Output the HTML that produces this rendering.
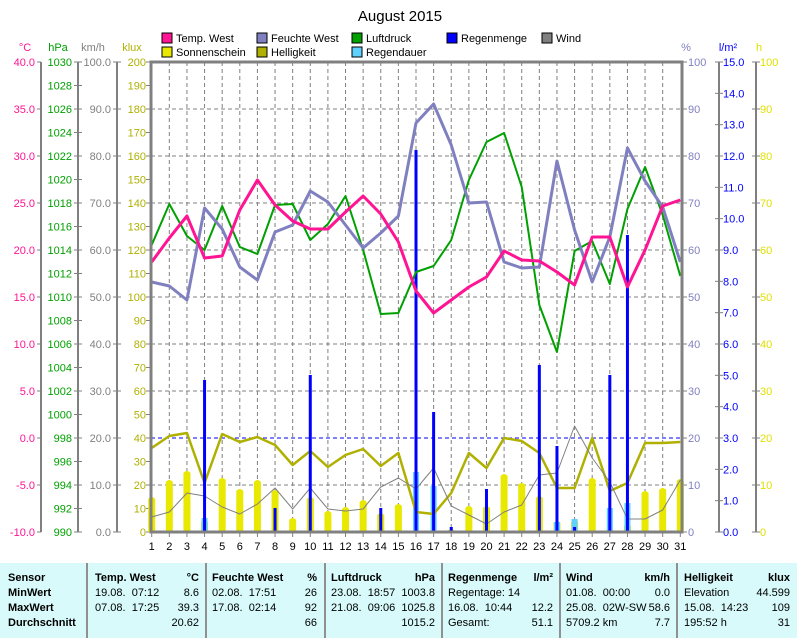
<!DOCTYPE html>
<html><head><meta charset="utf-8"><style>
body{margin:0;background:#fff;width:797px;height:638px;overflow:hidden;font-family:"Liberation Sans",sans-serif}
svg text{font-family:"Liberation Sans",sans-serif;font-size:11px}
#foot{position:absolute;left:0;top:563px;width:797px;height:75px;background:#d8fafa;font-size:11px;}
.c{position:absolute;top:8px;line-height:15px}
.sep{position:absolute;top:0;width:2px;height:75px;background:#909090}
b{font-weight:bold}
.r{text-align:right;position:absolute}
</style></head><body>
<svg id="s" width="797" height="563" style="position:absolute;left:0;top:0">
<text x="400" y="21" text-anchor="middle" style="font-size:15px">August 2015</text>
<g id="g"></g>
<g font-size="11">
<rect x="162" y="33" width="10" height="10" fill="#ff1493" stroke="#000"/><text x="176" y="42">Temp. West</text>
<rect x="257" y="33" width="10" height="10" fill="#8080c0" stroke="#000"/><text x="271" y="42">Feuchte West</text>
<rect x="352" y="33" width="10" height="10" fill="#00a000" stroke="#000"/><text x="366" y="42">Luftdruck</text>
<rect x="447" y="33" width="10" height="10" fill="#0000ff" stroke="#000"/><text x="461" y="42">Regenmenge</text>
<rect x="542" y="33" width="10" height="10" fill="#808080" stroke="#000"/><text x="556" y="42">Wind</text>
<rect x="162" y="47" width="10" height="10" fill="#e8e800" stroke="#000"/><text x="176" y="56">Sonnenschein</text>
<rect x="257" y="47" width="10" height="10" fill="#b0b000" stroke="#000"/><text x="271" y="56">Helligkeit</text>
<rect x="352" y="47" width="10" height="10" fill="#60d0ff" stroke="#000"/><text x="366" y="56">Regendauer</text>
<text x="25" y="51" text-anchor="middle" fill="#ff1493">°C</text>
<text x="58" y="51" text-anchor="middle" fill="#00a000">hPa</text>
<text x="93" y="51" text-anchor="middle" fill="#808080">km/h</text>
<text x="132" y="51" text-anchor="middle" fill="#b0b000">klux</text>
<text x="686" y="51" text-anchor="middle" fill="#8080c0">%</text>
<text x="728" y="51" text-anchor="middle" fill="#0000ff">l/m²</text>
<text x="759" y="51" text-anchor="middle" fill="#e0e000">h</text>
</g>
<g text-anchor="end" fill="#ff1493">
<text x="35" y="66">40.0</text><text x="35" y="113">35.0</text><text x="35" y="160">30.0</text><text x="35" y="207">25.0</text><text x="35" y="254">20.0</text><text x="35" y="301">15.0</text><text x="35" y="348">10.0</text><text x="35" y="395">5.0</text><text x="35" y="442">0.0</text><text x="35" y="489">-5.0</text><text x="35" y="536">-10.0</text>
</g>
<g text-anchor="end" fill="#00a000">
<text x="72" y="66">1030</text><text x="72" y="89.5">1028</text><text x="72" y="113">1026</text><text x="72" y="136.5">1024</text><text x="72" y="160">1022</text><text x="72" y="183.5">1020</text><text x="72" y="207">1018</text><text x="72" y="230.5">1016</text><text x="72" y="254">1014</text><text x="72" y="277.5">1012</text><text x="72" y="301">1010</text><text x="72" y="324.5">1008</text><text x="72" y="348">1006</text><text x="72" y="371.5">1004</text><text x="72" y="395">1002</text><text x="72" y="418.5">1000</text><text x="72" y="442">998</text><text x="72" y="465.5">996</text><text x="72" y="489">994</text><text x="72" y="512.5">992</text><text x="72" y="536">990</text>
</g>
<g text-anchor="end" fill="#808080">
<text x="111" y="66">100.0</text><text x="111" y="113">90.0</text><text x="111" y="160">80.0</text><text x="111" y="207">70.0</text><text x="111" y="254">60.0</text><text x="111" y="301">50.0</text><text x="111" y="348">40.0</text><text x="111" y="395">30.0</text><text x="111" y="442">20.0</text><text x="111" y="489">10.0</text><text x="111" y="536">0.0</text>
</g>
<g text-anchor="end" fill="#b0b000">
<text x="146" y="66">200</text><text x="146" y="89.5">190</text><text x="146" y="113">180</text><text x="146" y="136.5">170</text><text x="146" y="160">160</text><text x="146" y="183.5">150</text><text x="146" y="207">140</text><text x="146" y="230.5">130</text><text x="146" y="254">120</text><text x="146" y="277.5">110</text><text x="146" y="301">100</text><text x="146" y="324.5">90</text><text x="146" y="348">80</text><text x="146" y="371.5">70</text><text x="146" y="395">60</text><text x="146" y="418.5">50</text><text x="146" y="442">40</text><text x="146" y="465.5">30</text><text x="146" y="489">20</text><text x="146" y="512.5">10</text><text x="146" y="536">0</text>
</g>
<g fill="#8080c0">
<text x="688" y="66">100</text><text x="688" y="113">90</text><text x="688" y="160">80</text><text x="688" y="207">70</text><text x="688" y="254">60</text><text x="688" y="301">50</text><text x="688" y="348">40</text><text x="688" y="395">30</text><text x="688" y="442">20</text><text x="688" y="489">10</text><text x="688" y="536">0</text>
</g>
<g fill="#0000ff">
<text x="723" y="66">15.0</text><text x="723" y="97.3">14.0</text><text x="723" y="128.7">13.0</text><text x="723" y="160">12.0</text><text x="723" y="191.3">11.0</text><text x="723" y="222.7">10.0</text><text x="723" y="254">9.0</text><text x="723" y="285.3">8.0</text><text x="723" y="316.7">7.0</text><text x="723" y="348">6.0</text><text x="723" y="379.3">5.0</text><text x="723" y="410.7">4.0</text><text x="723" y="442">3.0</text><text x="723" y="473.3">2.0</text><text x="723" y="504.7">1.0</text><text x="723" y="536">0.0</text>
</g>
<g fill="#e0e000">
<text x="760" y="66">100</text><text x="760" y="113">90</text><text x="760" y="160">80</text><text x="760" y="207">70</text><text x="760" y="254">60</text><text x="760" y="301">50</text><text x="760" y="348">40</text><text x="760" y="395">30</text><text x="760" y="442">20</text><text x="760" y="489">10</text><text x="760" y="536">0</text>
</g>
<g text-anchor="middle" font-size="11">
<text x="151.7" y="550">1</text><text x="169.3" y="550">2</text><text x="186.9" y="550">3</text><text x="204.6" y="550">4</text><text x="222.2" y="550">5</text><text x="239.8" y="550">6</text><text x="257.4" y="550">7</text><text x="275.1" y="550">8</text><text x="292.7" y="550">9</text><text x="310.3" y="550">10</text><text x="327.9" y="550">11</text><text x="345.5" y="550">12</text><text x="363.1" y="550">13</text><text x="380.8" y="550">14</text><text x="398.4" y="550">15</text><text x="416" y="550">16</text><text x="433.6" y="550">17</text><text x="451.2" y="550">18</text><text x="468.9" y="550">19</text><text x="486.5" y="550">20</text><text x="504.1" y="550">21</text><text x="521.7" y="550">22</text><text x="539.3" y="550">23</text><text x="557" y="550">24</text><text x="574.6" y="550">25</text><text x="592.2" y="550">26</text><text x="609.8" y="550">27</text><text x="627.4" y="550">28</text><text x="645.1" y="550">29</text><text x="662.7" y="550">30</text><text x="680.3" y="550">31</text>
</g>
</svg>
<div id="foot">
<div class="sep" style="left:86px"></div><div class="sep" style="left:205px"></div><div class="sep" style="left:324px"></div><div class="sep" style="left:441px"></div><div class="sep" style="left:559px"></div><div class="sep" style="left:676px"></div>
<div class="c" style="left:8px"><b>Sensor</b><br><b>MinWert</b><br><b>MaxWert</b><br><b>Durchschnitt</b></div>
<div class="c" style="left:95px;width:104px"><b>Temp. West</b><br>19.08.&nbsp; 07:12<br>07.08.&nbsp; 17:25<br>&nbsp;</div>
<div class="c" style="left:95px;width:104px;text-align:right"><b>°C</b><br>8.6<br>39.3<br>20.62</div>
<div class="c" style="left:212px;width:105px"><b>Feuchte West</b><br>02.08.&nbsp; 17:51<br>17.08.&nbsp; 02:14<br>&nbsp;</div>
<div class="c" style="left:212px;width:105px;text-align:right"><b>%</b><br>26<br>92<br>66</div>
<div class="c" style="left:331px;width:104px"><b>Luftdruck</b><br>23.08.&nbsp; 18:57<br>21.08.&nbsp; 09:06<br>&nbsp;</div>
<div class="c" style="left:331px;width:104px;text-align:right"><b>hPa</b><br>1003.8<br>1025.8<br>1015.2</div>
<div class="c" style="left:448px;width:105px"><b>Regenmenge</b><br>Regentage: 14<br>16.08.&nbsp; 10:44<br>Gesamt:</div>
<div class="c" style="left:448px;width:105px;text-align:right"><b>l/m²</b><br>&nbsp;<br>12.2<br>51.1</div>
<div class="c" style="left:566px;width:104px"><b>Wind</b><br>01.08.&nbsp; 00:00<br>25.08.&nbsp; 02W-SW<br>5709.2 km</div>
<div class="c" style="left:566px;width:104px;text-align:right"><b>km/h</b><br>0.0<br>58.6<br>7.7</div>
<div class="c" style="left:684px;width:106px"><b>Helligkeit</b><br>Elevation<br>15.08.&nbsp; 14:23<br>195:52 h</div>
<div class="c" style="left:684px;width:106px;text-align:right"><b>klux</b><br>44.599<br>109<br>31</div>
</div>
<script>
var NS="http://www.w3.org/2000/svg",g=document.getElementById("g");
function el(n,a){var e=document.createElementNS(NS,n);for(var k in a)e.setAttribute(k,a[k]);g.appendChild(e);return e}
function X(d){return 151.7+(d-1)*17.62}
// grid
for(var y=109;y<532;y+=47)el("line",{x1:151,x2:682,y1:y,y2:y,stroke:"#808080","stroke-dasharray":"4,3"});
for(var d=2;d<=30;d++)el("line",{x1:X(d),x2:X(d),y1:62,y2:532,stroke:"#808080","stroke-dasharray":"4,3"});
el("line",{x1:151,x2:682,y1:438,y2:438,stroke:"#0000ff","stroke-dasharray":"4,3"});
// axes
[[41,0,47],[78,1,23.5],[117,1,47],[719,1,31.333],[756,1,47]].forEach(function(a){
 el("line",{x1:a[0],x2:a[0],y1:62,y2:532,stroke:"#808080","stroke-width":2});
 for(var y=62;y<=532.5;y+=a[2])el("line",{x1:a[0]-4,x2:a[0]+(a[1]?4:0),y1:y,y2:y,stroke:"#808080"});
});
for(var y=62;y<=532.5;y+=23.5)el("line",{x1:146,x2:151,y1:y,y2:y,stroke:"#808080"});
for(var y=62;y<=532.5;y+=47)el("line",{x1:682,x2:687,y1:y,y2:y,stroke:"#808080"});
for(var d=1;d<=31;d++)el("line",{x1:X(d),x2:X(d),y1:532,y2:537,stroke:"#808080"});
// sunshine
var sun=[496,479,470,519,477,488,479,489,517,496,510,506,499,512,503,0,0,528,505,505,473,482,495,520,519,477,527,523,490,487,478];
sun.forEach(function(t,i){if(!t)return;var x=X(i+1);el("path",{d:"M"+(x-3.5)+",532V"+(t+3)+"Q"+x+","+(t-1)+" "+(x+3.5)+","+(t+3)+"V532Z",fill:"#e8e800"})});
var dur={4:518,16:472,17:486,24:522,25:519,27:508,28:503};
for(var k in dur){var x=X(+k);el("rect",{x:x-3,y:dur[k],width:6,height:532-dur[k],fill:"#60d0ff"})}
// brightness
function line(arr,c,w){el("polyline",{points:arr.map(function(v,i){return X(i+1)+","+v}).join(" "),fill:"none",stroke:c,"stroke-width":w,"stroke-linejoin":"round"})}
line([448,436,433,483,434,442,437,445,465,451,467,455,449,466,453,512,514,493,453,468,438,441,453,488,488,438,491,483,443,443,442],"#b0b000",2.5);
line([517,512,493,496,507,514,504,488,509,488,509,511,509,487,478,489,468,506,515,524,512,505,475,473,426,458,482,519,519,510,480],"#808080",1);
var rain={4:380,8:508,10:375,14:508,16:150,17:412,18:527,20:489,23:365,24:446,25:527,27:375,28:235};
for(var k in rain){var x=X(+k);el("rect",{x:x-1.5,y:rain[k],width:3,height:532-rain[k],fill:"#0000ff"})}
line([245,204,236,250,206,247,254,205,204,240,224,196,250,314,313,272,266,240,180,142,133,187,305,352,251,241,284,209,167,215,276],"#00a000",2);
line([282,286,300,208,229,267,280,232,225,191,202,225,248,233,216,123,104,145,203,202,262,268,267,161,230,282,237,148,181,207,262],"#8080c0",3);
line([262,238,216,258,256,210,180,205,221,229,229,212,196,214,242,291,313,300,287,277,251,260,261,272,285,237,237,287,250,206,200],"#ff1493",3);
el("rect",{x:151,y:62,width:531,height:470,fill:"none",stroke:"#808080","stroke-width":3});
</script>
</body></html>
